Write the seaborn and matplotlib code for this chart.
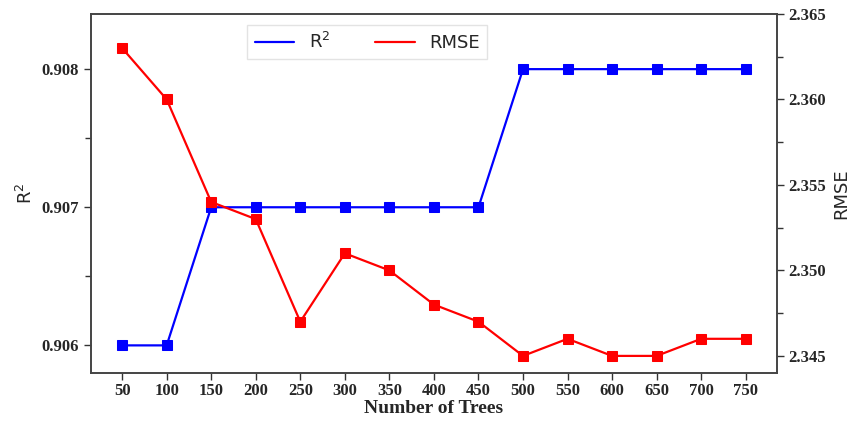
import numpy as np
import pandas as pd
import seaborn as sns
import matplotlib.pyplot as plt
from matplotlib.lines import Line2D
from matplotlib.ticker import MultipleLocator

sns.set_style('ticks')

# dados
trees = [50, 100, 150, 200, 250, 300, 350, 400, 450, 500, 550, 600, 650, 700, 750]
r2 = [0.906, 0.906, 0.907, 0.907, 0.907, 0.907, 0.907, 0.907, 0.907,
      0.908, 0.908, 0.908, 0.908, 0.908, 0.908]
rmse = [2.363, 2.360, 2.354, 2.353, 2.347, 2.351, 2.350, 2.348, 2.347,
        2.345, 2.346, 2.345, 2.345, 2.346, 2.346]

df = pd.DataFrame({'Trees': trees, 'R2': r2, 'RMSE': rmse})

tick_font = {'family': 'Liberation Serif', 'weight': 'bold', 'size': 12}

fig = plt.figure(figsize=(8.5, 4.21), dpi=100)
ax = fig.add_axes([0.107, 0.114, 0.807, 0.853])
ax2 = ax.twinx()

sns.lineplot(data=df, x='Trees', y='R2', ax=ax, color='blue', marker='s',
             markersize=7, markeredgecolor='blue', linewidth=1.6)
sns.lineplot(data=df, x='Trees', y='RMSE', ax=ax2, color='red', marker='s',
             markersize=7, markeredgecolor='red', linewidth=1.6)

ax.set_xlim(15, 785)
ax.set_xticks(trees)
ax.set_ylim(0.9058, 0.9084)
ax.set_yticks([0.906, 0.907, 0.908])
ax.yaxis.set_minor_locator(MultipleLocator(0.0005))
ax2.set_ylim(2.344, 2.365)
ax2.set_yticks([2.345, 2.350, 2.355, 2.360, 2.365])
ax2.yaxis.set_minor_locator(MultipleLocator(0.0025))

for a in (ax, ax2):
    a.tick_params(which='both', direction='out', color='#333333', width=1)
    a.tick_params(which='major', length=5)
    a.tick_params(which='minor', length=4)
    for s in a.spines.values():
        s.set_color('#444444')
        s.set_linewidth(1.2)
ax.tick_params(axis='x', pad=2)

ax.set_xticklabels([str(t) for t in trees], fontdict=tick_font)
ax.set_yticklabels(['0.906', '0.907', '0.908'], fontdict=tick_font)
ax2.set_yticklabels(['2.345', '2.350', '2.355', '2.360', '2.365'], fontdict=tick_font)

ax.set_xlabel('Number of Trees', fontfamily='Liberation Serif', fontweight='bold',
              fontsize=14, labelpad=1)
ax.set_ylabel('R$^2$', fontsize=13)
ax2.set_ylabel('RMSE', fontsize=13)

handles = [Line2D([], [], color='blue', lw=1.6), Line2D([], [], color='red', lw=1.6)]
ax.legend(handles, ['R$^2$', 'RMSE'], ncol=2, fontsize=13, loc='upper left',
          bbox_to_anchor=(0.215, 0.995), fancybox=False, edgecolor='#dddddd',
          columnspacing=2.5, handlelength=2.2)

plt.savefig('out.png', dpi=100)
